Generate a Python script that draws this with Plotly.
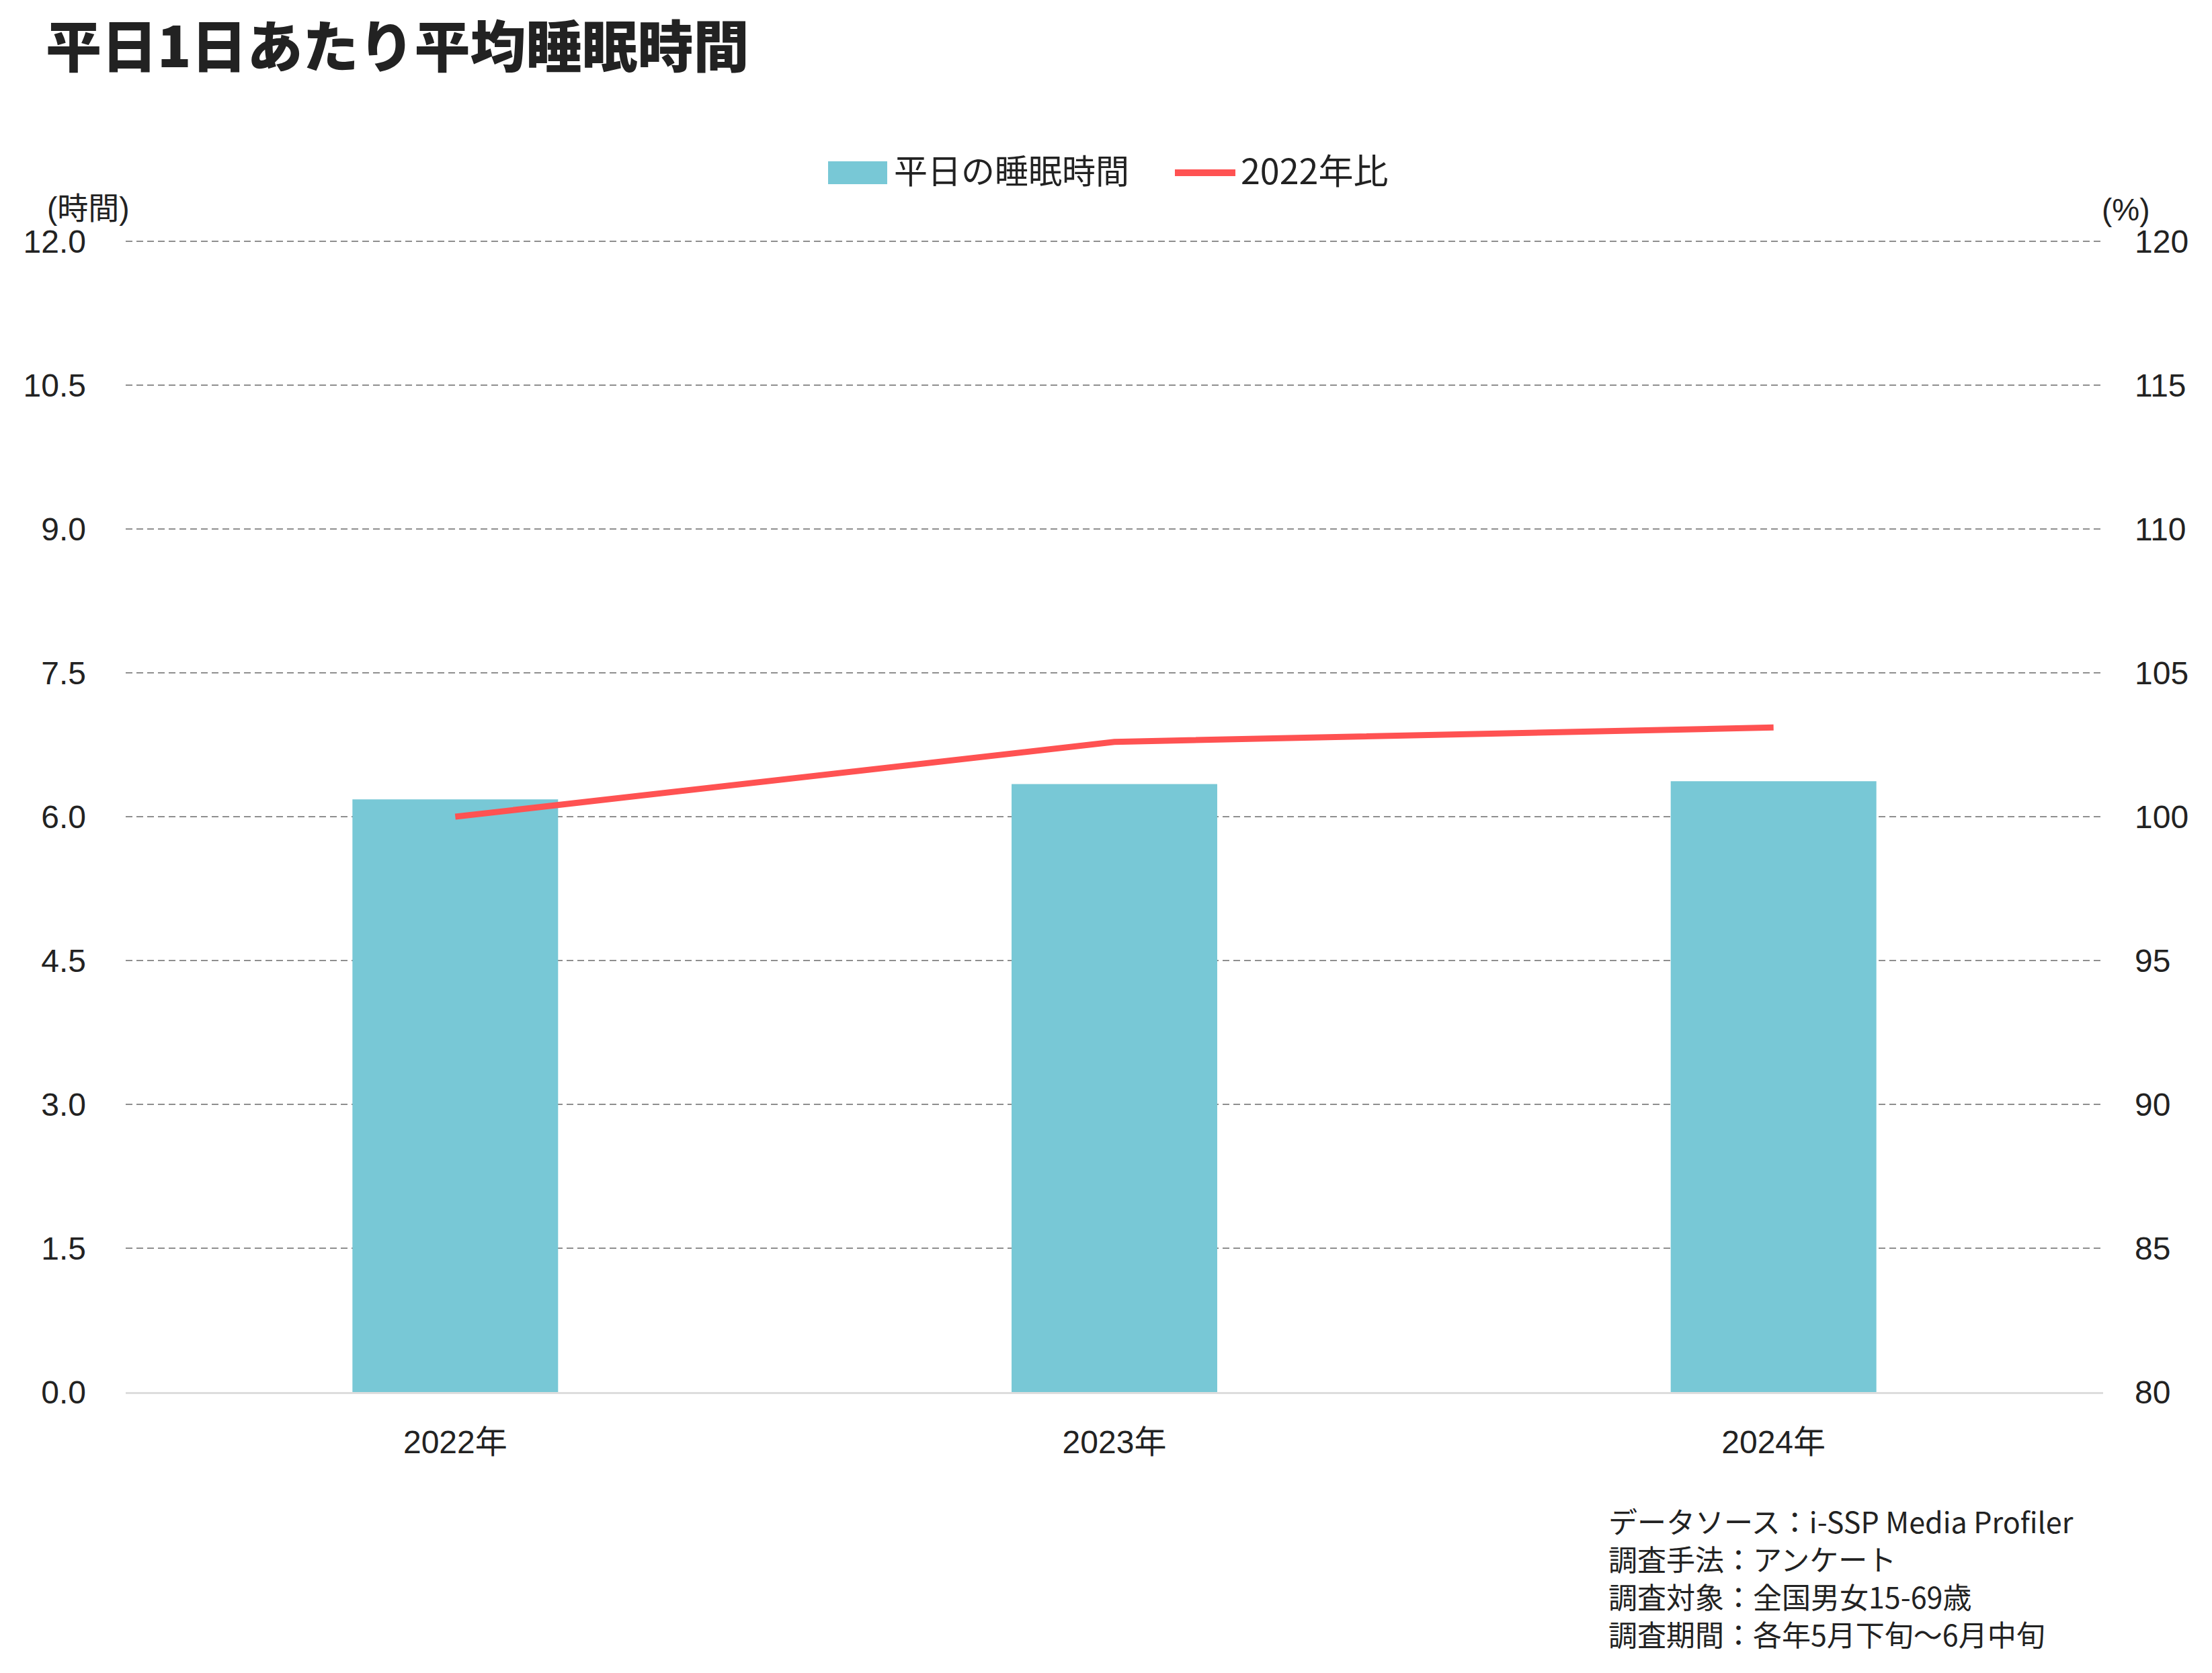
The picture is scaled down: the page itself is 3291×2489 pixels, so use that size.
import plotly.graph_objects as go

# ---------------- data ----------------
categories = ["2022年", "2023年", "2024年"]
sleep_hours = [6.18, 6.34, 6.37]          # 平日の睡眠時間 (時間)
ratio_2022 = [100.0, 102.6, 103.1]        # 2022年比 (%)
left_ticks = [0.0, 1.5, 3.0, 4.5, 6.0, 7.5, 9.0, 10.5, 12.0]
right_ticks = [80, 85, 90, 95, 100, 105, 110, 115, 120]
title_text = "平日1日あたり平均睡眠時間"
legend_names = ["平日の睡眠時間", "2022年比"]
footnote_lines = [
    "データソース：i-SSP Media Profiler",
    "調査手法：アンケート",
    "調査対象：全国男女15-69歳",
    "調査期間：各年5月下旬～6月中旬",
]

# ---------------- layout geometry ----------------
W, H = 3291, 2489
L, R, T, B = 187, 162, 359, 418
PW, PH = W - L - R, H - T - B


def px(x):
    return (x - L) / PW


def py(y):
    return (H - B - y) / PH


BAR_COLOR = "#78C8D6"
LINE_COLOR = "#FF5252"
GRID_COLOR = "#8f8f8f"
TEXT_COLOR = "#222222"
CJK = "Noto Sans CJK JP"
TICKFONT = "Liberation Sans, Arial, Noto Sans CJK JP"
GRID_DASH = "10px,6px"

fig = go.Figure()
fig.add_trace(go.Bar(
    x=categories, y=sleep_hours, name=legend_names[0],
    marker=dict(color=BAR_COLOR, line=dict(width=0)), width=0.312,
    showlegend=False,
))
fig.add_trace(go.Scatter(
    x=categories, y=ratio_2022, name=legend_names[1], yaxis="y2",
    mode="lines", line=dict(color=LINE_COLOR, width=9),
    showlegend=False,
))

fig.update_layout(
    width=W, height=H,
    margin=dict(l=L, r=R, t=T, b=B, autoexpand=False),
    paper_bgcolor="white", plot_bgcolor="white",
    font=dict(family=TICKFONT, color=TEXT_COLOR, size=48),
    xaxis=dict(
        showgrid=False, zeroline=False, showline=True,
        linecolor="#dddddd", linewidth=3, ticks="",
        tickfont=dict(size=48, family=TICKFONT, color=TEXT_COLOR),
        ticklabelstandoff=30,
    ),
    yaxis=dict(
        range=[0, 12], tickvals=left_ticks,
        ticktext=[f"{v:.1f}" for v in left_ticks],
        showgrid=True, gridcolor=GRID_COLOR, gridwidth=2, griddash=GRID_DASH,
        zeroline=False, showline=False, ticks="",
        tickfont=dict(size=48, family=TICKFONT, color=TEXT_COLOR),
        ticklabelstandoff=58,
    ),
    yaxis2=dict(
        range=[80, 120], tickvals=right_ticks,
        ticktext=[str(v) for v in right_ticks],
        overlaying="y", side="right",
        showgrid=False, zeroline=False, showline=False, ticks="",
        tickfont=dict(size=48, family=TICKFONT, color=TEXT_COLOR),
        ticklabelstandoff=46,
    ),
    showlegend=False,
)

annotations = []
shapes = []

# top gridline (plotly omits the gridline on the plot edge)
shapes.append(dict(type="line", xref="paper", yref="paper",
                   x0=0, x1=1, y0=1, y1=1,
                   line=dict(color=GRID_COLOR, width=2, dash=GRID_DASH),
                   layer="below"))

# title
annotations.append(dict(
    text=title_text, xref="paper", yref="paper",
    x=px(66), y=py(64), xanchor="left", yanchor="middle", showarrow=False,
    font=dict(family=CJK, size=83, color=TEXT_COLOR, weight=900),
))

# custom legend
shapes.append(dict(type="rect", xref="paper", yref="paper",
                   x0=px(1232), x1=px(1320), y0=py(274), y1=py(240),
                   fillcolor=BAR_COLOR, line=dict(width=0)))
annotations.append(dict(
    text=legend_names[0], xref="paper", yref="paper",
    x=px(1328), y=py(251), xanchor="left", yanchor="middle", showarrow=False,
    font=dict(family=CJK, size=50, color=TEXT_COLOR),
))
shapes.append(dict(type="line", xref="paper", yref="paper",
                   x0=px(1748), x1=px(1838), y0=py(257), y1=py(257),
                   line=dict(color=LINE_COLOR, width=10)))
annotations.append(dict(
    text=legend_names[1], xref="paper", yref="paper",
    x=px(1844), y=py(251), xanchor="left", yanchor="middle", showarrow=False,
    font=dict(family=CJK, size=52, color=TEXT_COLOR),
))

# axis unit labels
annotations.append(dict(
    text="(時間)", xref="paper", yref="paper",
    x=px(131), y=py(310), xanchor="center", yanchor="middle", showarrow=False,
    font=dict(family=TICKFONT, size=46, color=TEXT_COLOR),
))
annotations.append(dict(
    text="(%)", xref="paper", yref="paper",
    x=px(3163), y=py(312), xanchor="center", yanchor="middle", showarrow=False,
    font=dict(family=TICKFONT, size=46, color=TEXT_COLOR),
))

# footnote, one annotation per line
for i, line in enumerate(footnote_lines):
    annotations.append(dict(
        text=line, xref="paper", yref="paper",
        x=px(2391), y=py(2262 + 56 * i), xanchor="left", yanchor="middle",
        align="left", showarrow=False,
        font=dict(family=CJK, size=43, color=TEXT_COLOR),
    ))

fig.update_layout(annotations=annotations, shapes=shapes)
fig.write_html("out.html")
